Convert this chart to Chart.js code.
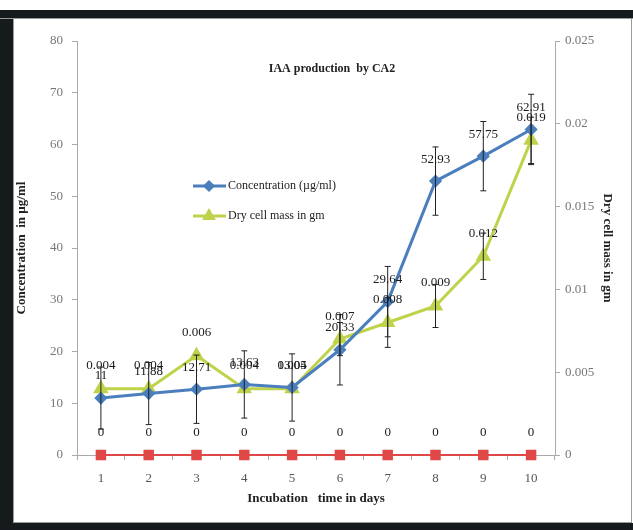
<!DOCTYPE html>
<html>
<head>
<meta charset="utf-8">
<script src="https://cdn.jsdelivr.net/npm/chart.js@4"></script>
<style>
  html, body { margin: 0; padding: 0; background: #fff; }
  #wrap { width: 633px; height: 530px; }
</style>
</head>
<body>
<div id="wrap"><canvas id="chart" width="633" height="530"></canvas></div>
<script>
const days = ['1', '2', '3', '4', '5', '6', '7', '8', '9', '10'];
const concentration = [11, 11.88, 12.71, 13.63, 13.05, 20.33, 29.64, 52.93, 57.75, 62.91];
const concLabels = ['11', '11.88', '12.71', '13.63', '13.05', '20.33', '29.64', '52.93', '57.75', '62.91'];
const concError = [6, 6, 6.6, 6.5, 6.5, 6.8, 6.8, 6.6, 6.7, 6.8];
const dryMass = [0.004, 0.004, 0.006, 0.004, 0.004, 0.007, 0.008, 0.009, 0.012, 0.019];
const dryLabels = ['0.004', '0.004', '0.006', '0.004', '0.004', '0.007', '0.008', '0.009', '0.012', '0.019'];
const dryError = [0, 0, 0, 0, 0, 0.001, 0.0015, 0.0013, 0.0014, 0.0014];
const control = [0, 0, 0, 0, 0, 0, 0, 0, 0, 0];

const SERIF = '"Liberation Serif", "DejaVu Serif", serif';
const BLUE = '#4a7ebd';
const GREEN = '#bfd24a';
const RED = '#e04848';

// frame, title, error bars, value labels and the legend
const extras = {
    id: 'extras',
    beforeDraw(chart) {
        const ctx = chart.ctx;
        ctx.save();
        ctx.fillStyle = '#fff';
        ctx.fillRect(0, 0, chart.width, chart.height);
        ctx.restore();
    },
    afterDatasetsDraw(chart) {
        const ctx = chart.ctx;
        const x = chart.scales.x, y = chart.scales.y, y1 = chart.scales.y1;
        ctx.save();
        ctx.strokeStyle = '#222';
        ctx.lineWidth = 1;
        const bar = (px, top, bot) => {
            ctx.beginPath();
            ctx.moveTo(px, top); ctx.lineTo(px, bot);
            ctx.moveTo(px - 3, top); ctx.lineTo(px + 3, top);
            ctx.moveTo(px - 3, bot); ctx.lineTo(px + 3, bot);
            ctx.stroke();
        };
        days.forEach((d, i) => {
            const px = x.getPixelForValue(i);
            bar(px, y.getPixelForValue(concentration[i] + concError[i]), y.getPixelForValue(concentration[i] - concError[i]));
            if (dryError[i] > 0) {
                bar(px, y1.getPixelForValue(dryMass[i] + dryError[i]), y1.getPixelForValue(dryMass[i] - dryError[i]));
            }
        });

        ctx.fillStyle = '#1a1a1a';
        ctx.font = '13px ' + SERIF;
        ctx.textAlign = 'center';
        ctx.textBaseline = 'middle';
        days.forEach((d, i) => {
            const px = x.getPixelForValue(i);
            ctx.fillText(concLabels[i], px, y.getPixelForValue(concentration[i]) - 22);
            ctx.fillText(dryLabels[i], px, y1.getPixelForValue(dryMass[i]) - 23);
            ctx.fillText('0', px, y.getPixelForValue(control[i]) - 22);
        });
        ctx.restore();
    },
    afterDraw(chart) {
        const ctx = chart.ctx;
        ctx.save();
        // title
        ctx.fillStyle = '#222';
        ctx.font = 'bold 12px ' + SERIF;
        ctx.textAlign = 'center';
        ctx.textBaseline = 'middle';
        ctx.fillText('IAA production  by CA2', 332, 69);

        // legend
        const items = [
            { text: 'Concentration (\u00b5g/ml)', color: BLUE, style: 'rectRot', r: 4, y: 186 },
            { text: 'Dry cell mass in gm', color: GREEN, style: 'triangle', r: 5, y: 216 }
        ];
        ctx.font = '12px ' + SERIF;
        ctx.textAlign = 'left';
        items.forEach(it => {
            ctx.strokeStyle = it.color;
            ctx.lineWidth = 3;
            ctx.beginPath();
            ctx.moveTo(193, it.y); ctx.lineTo(226, it.y);
            ctx.stroke();
            ctx.fillStyle = it.color;
            Chart.helpers.drawPoint(ctx, { pointStyle: it.style, radius: it.r, borderWidth: 1 }, 209, it.y);
            ctx.fill();
            ctx.fillStyle = '#222';
            ctx.fillText(it.text, 228, it.y);
        });

        // frame
        ctx.fillStyle = '#151a1c';
        ctx.fillRect(0, 10, chart.width, 8);
        ctx.fillRect(0, 10, 13, chart.height - 10);
        ctx.fillRect(0, 523, chart.width, 7);
        ctx.fillStyle = '#9a9a9a';
        ctx.fillRect(0, 18, chart.width, 1);
        ctx.fillRect(13, 18, 1, 505);
        ctx.fillRect(631, 18, 1, 505);
        ctx.fillRect(13, 522, 619, 1);
        ctx.restore();
    }
};

const tickFont = { family: SERIF, size: 13 };
const titleFont = { family: SERIF, size: 13, weight: 'bold' };

new Chart(document.getElementById('chart'), {
    type: 'line',
    data: {
        labels: days,
        datasets: [
            {
                label: 'Concentration (\u00b5g/ml)',
                data: concentration,
                yAxisID: 'y',
                borderColor: BLUE,
                backgroundColor: BLUE,
                borderWidth: 3,
                pointStyle: 'rectRot',
                pointRadius: 4.5,
                tension: 0,
                clip: false
            },
            {
                label: 'Dry cell mass in gm',
                data: dryMass,
                yAxisID: 'y1',
                borderColor: GREEN,
                backgroundColor: GREEN,
                borderWidth: 3,
                pointStyle: 'triangle',
                pointRadius: 6,
                tension: 0,
                clip: false
            },
            {
                label: 'control',
                data: control,
                yAxisID: 'y',
                borderColor: RED,
                backgroundColor: RED,
                borderWidth: 2,
                pointStyle: 'rect',
                pointRadius: 6,
                tension: 0,
                clip: false
            }
        ]
    },
    options: {
        responsive: false,
        animation: false,
        layout: { padding: { top: 41, left: 0, right: 0, bottom: 0 } },
        plugins: {
            legend: { display: false },
            tooltip: { enabled: false }
        },
        scales: {
            x: {
                offset: true,
                grid: { drawOnChartArea: false, offset: true, tickLength: 5, color: '#aaa' },
                border: { color: '#aaa' },
                ticks: { font: tickFont, color: '#555', padding: 11, maxRotation: 0 },
                title: { display: true, text: 'Incubation   time in days', font: titleFont, color: '#222', padding: { top: 0, bottom: 24 } },
                afterFit(s) { s.height = 75; }
            },
            y: {
                position: 'left',
                min: 0, max: 80,
                grid: { drawOnChartArea: false, tickLength: 5, color: '#aaa' },
                border: { color: '#aaa' },
                ticks: { stepSize: 10, font: tickFont, color: '#777', padding: 9 },
                title: { display: true, text: 'Concentration  in \u00b5g/ml', font: titleFont, color: '#222', padding: { top: 14, bottom: 0 } },
                afterFit(s) { s.width = 77; }
            },
            y1: {
                position: 'right',
                min: 0, max: 0.025,
                grid: { drawOnChartArea: false, tickLength: 5, color: '#aaa' },
                border: { color: '#aaa' },
                ticks: { stepSize: 0.005, font: tickFont, color: '#777', padding: 5,
                    callback: v => String(Math.round(v * 1000) / 1000) },
                title: { display: true, text: 'Dry cell mass in gm', font: titleFont, color: '#222', padding: { top: 18, bottom: 0 } },
                afterFit(s) { s.width = 78; }
            }
        }
    },
    plugins: [extras]
});
</script>
</body>
</html>
